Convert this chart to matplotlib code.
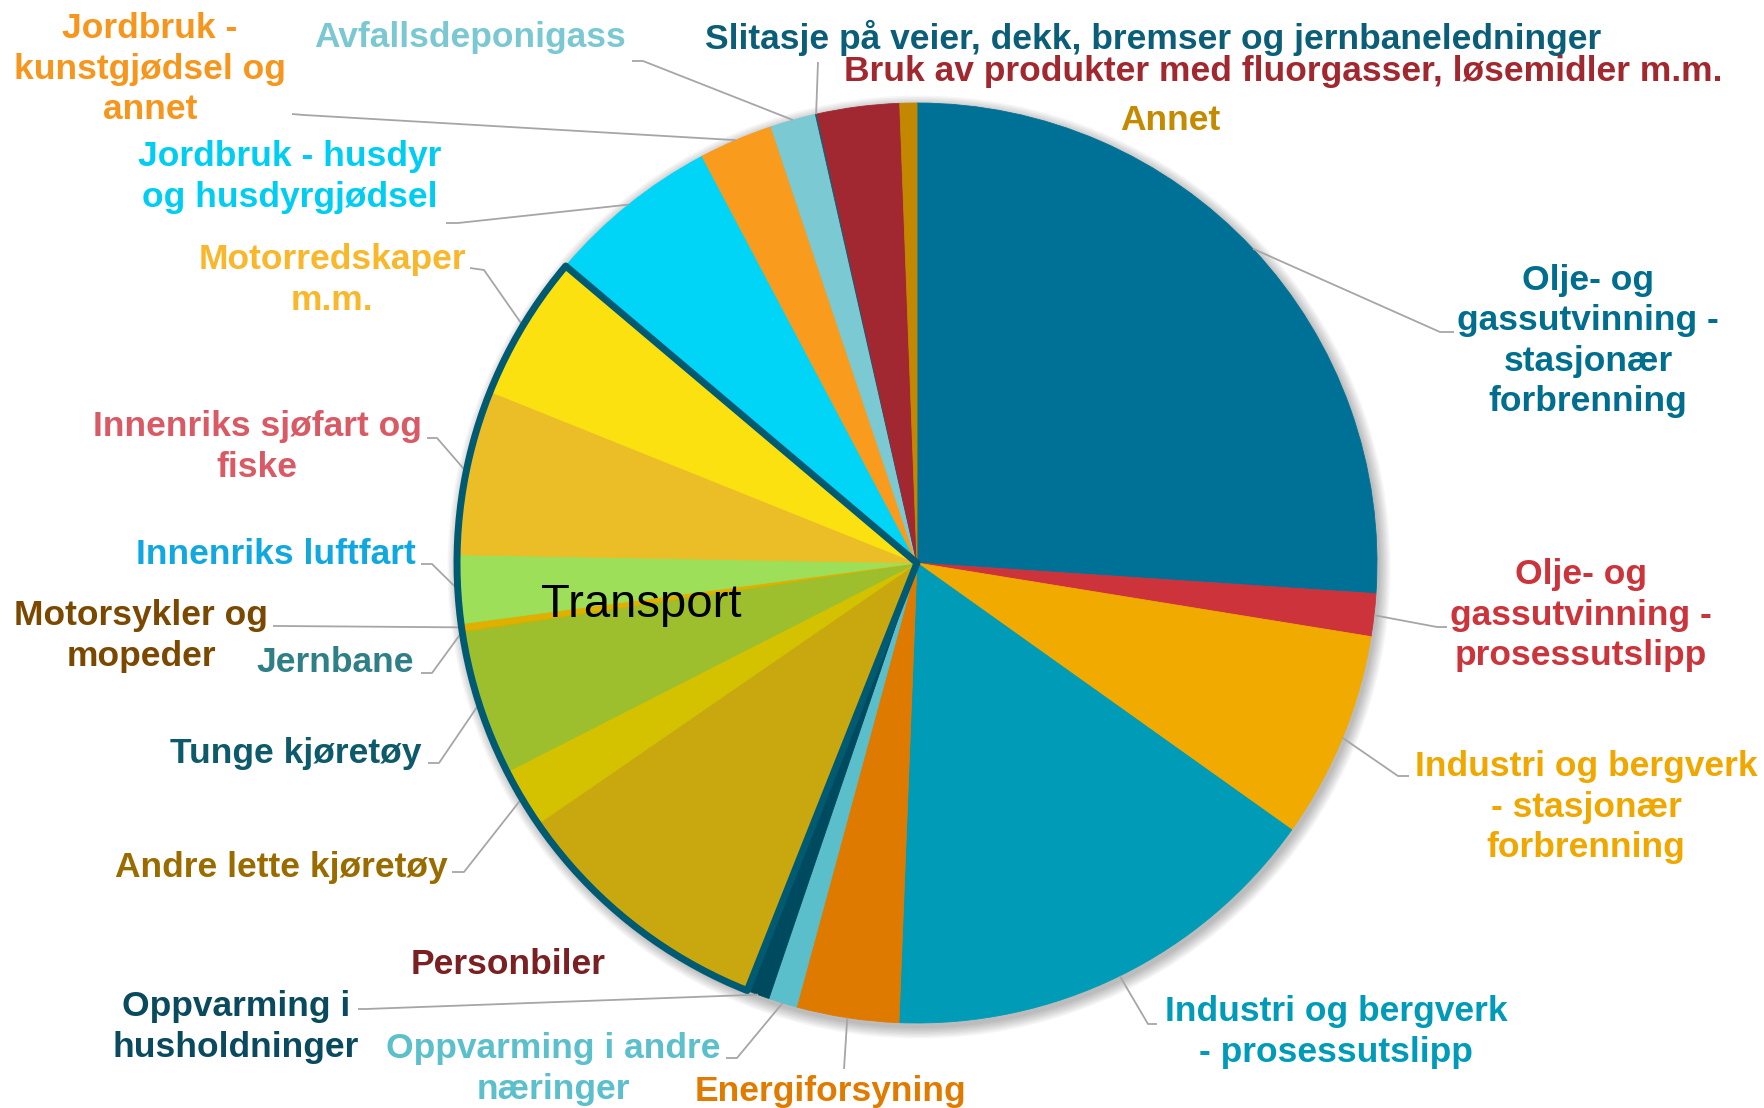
import numpy as np
import matplotlib
matplotlib.use("Agg")
import matplotlib.pyplot as plt
from matplotlib.patches import Wedge, Circle

plt.rcParams['font.family'] = ['Liberation Sans', 'DejaVu Sans']

# Andel av utslipp (prosent), med klokka fra kl. 12
kategorier = [
    "Olje- og\ngassutvinning -\nstasjonær\nforbrenning",
    "Olje- og\ngassutvinning -\nprosessutslipp",
    "Industri og bergverk\n- stasjonær\nforbrenning",
    "Industri og bergverk\n- prosessutslipp",
    "Energiforsyning",
    "Oppvarming i andre\nnæringer",
    "Oppvarming i\nhusholdninger",
    "Personbiler",
    "Andre lette kjøretøy",
    "Tunge kjøretøy",
    "Jernbane",
    "Motorsykler og\nmopeder",
    "Innenriks luftfart",
    "Innenriks sjøfart og\nfiske",
    "Motorredskaper\nm.m.",
    "Jordbruk - husdyr\nog husdyrgjødsel",
    "Jordbruk -\nkunstgjødsel og\nannet",
    "Avfallsdeponigass",
    "Slitasje på veier, dekk, bremser og jernbaneledninger",
    "Bruk av produkter med fluorgasser, løsemidler m.m.",
    "Annet",
]
andel = [26.1, 1.5, 7.3, 15.8, 3.6, 1.0, 0.8, 9.4, 2.1, 5.1, 0.05, 0.25,
         2.4, 5.8, 5.1, 6.1, 2.6, 1.6, 0.05, 2.9, 0.6]
farger = ['#007196', '#CC333B', '#F0AA00', '#009BB7', '#DE7A00', '#5BBECB',
          '#004A5F', '#C9A80F', '#D4C200', '#9DBF2D', '#C8B400', '#E0B000',
          '#9DDF58', '#EBBE28', '#FCE110', '#00D5F7', '#F99B1C', '#7AC9D3',
          '#0C5E78', '#A12831', '#C48700']
tekstfarger = ['#006E8E', '#CC343C', '#F0A800', '#009BB8', '#E07B00', '#5BBFCC',
               '#0A4A5E', '#7A1F22', '#9A6C00', '#0D5A6A', '#2E7F86', '#7A4800',
               '#10A8DE', '#D95A64', '#F9B82C', '#00CDF2', '#F7961C', '#7AC8D2',
               '#0B5E78', '#A2282F', '#C48A00']
transport = (7, 14)  # første og siste indeks i transportgruppen

W, H = 1764, 1108
cx, cy, R = 917, H - 563, 460

# etikettplassering (bildekoordinater, y nedover)
tekst_pos = [(1588, 341), (1581, 615), (1586, 807), (1336, 1032), (830, 1091),
             (553, 1069), (236, 1027), (508, 964), (281, 868), (296, 754),
             (335, 662), (141, 636), (276, 554), (257, 447), (332, 280),
             (290, 177), (150, 69), (470, 37), (1153, 38), (1283, 72), (1170, 120)]
# linjestart og knekkpunkt for ledelinjer (None = ingen linje)
ledere = [((1454, 332), (1440, 332)), ((1447, 627), (1437, 627)),
          ((1409, 776), (1398, 776)), ((1157, 1024), (1148, 1024)),
          ((844, 1069), (844, 1069)), ((726, 1058), (737, 1058)),
          ((358, 1009), (366, 1009)), None,
          ((452, 872), (464, 872)), ((428, 763), (439, 763)),
          ((421, 673), (432, 673)), ((273, 626), (280, 626)),
          ((421, 564), (432, 564)), ((427, 438), (437, 438)),
          ((470, 268), (484, 270)), ((446, 223), (458, 223)),
          ((292, 114), (304, 115)), ((632, 61), (643, 61)),
          ((818, 62), (818, 62)), None, None]

fig = plt.figure(figsize=(W / 100, H / 100), dpi=100)
ax = fig.add_axes([0, 0, 1, 1])

# myk skygge rundt kaken
for k in range(8):
    ax.add_patch(Circle((cx + 2, cy - 4), R + 1 + k * 1.5, color='black',
                        alpha=0.035, lw=0, zorder=0))

wedges, _ = ax.pie(andel, colors=farger, startangle=90, counterclock=False,
                   center=(cx, cy), radius=R, frame=True)
for w in wedges:
    w.set_edgecolor(w.get_facecolor())
    w.set_linewidth(0.6)
    w.set_zorder(1)

# omriss rundt transport
t0 = wedges[transport[1]].theta1
t1 = wedges[transport[0]].theta2
ax.add_patch(Wedge((cx, cy), R, t0, t1, fill=False, edgecolor='#005A72',
                   lw=5, joinstyle='round', zorder=3))
ax.text(641, H - 605, "Transport", fontsize=34, color='black',
        ha='center', va='center', zorder=4)

for i, lab in enumerate(kategorier):
    x, y = tekst_pos[i]
    ax.text(x, H - y, lab, fontsize=25.5, fontweight='bold', color=tekstfarger[i],
            ha='center', va='center', linespacing=1.28, zorder=5)
    if ledere[i] is None:
        continue
    (sx, sy), (ex, ey) = ledere[i]
    w = wedges[i]
    a = np.deg2rad((w.theta1 + w.theta2) / 2)
    px, py = cx + R * np.cos(a), cy + R * np.sin(a)
    ax.plot([sx, ex, px], [H - sy, H - ey, py], color='#A6A6A6', lw=1.3,
            zorder=2, solid_capstyle='butt')

ax.set_xlim(0, W)
ax.set_ylim(0, H)
ax.set_aspect('equal')
ax.axis('off')
fig.savefig('out.png', dpi=100, facecolor='white')
